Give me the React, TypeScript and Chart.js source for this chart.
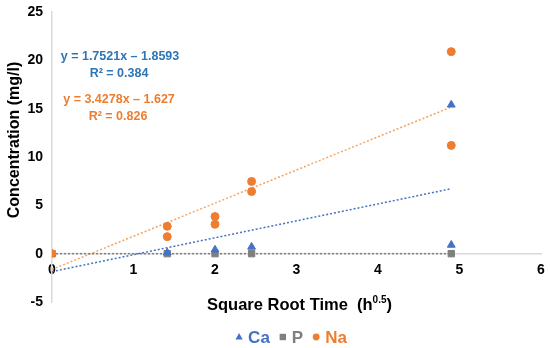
import React, { useEffect, useRef } from "react";
import { Chart, registerables } from "chart.js";

Chart.register(...registerables);

const caX = [0, 1.414, 2, 2.449, 4.899, 4.899];
const caY = [0, 0.1, 0.4, 0.7, 15.4, 0.9];
const pX = [0, 1.414, 2, 2.449, 4.899];
const pY = [0, 0, 0, 0, 0];
const naX = [0, 1.414, 1.414, 2, 2, 2.449, 2.449, 4.899, 4.899];
const naY = [0, 2.83, 1.76, 3.84, 3.04, 7.47, 6.43, 20.9, 11.2];
const trendX = [0, 4.899];
const caTrendY = [-1.86, 6.72];
const pTrendY = [0, 0];
const naTrendY = [-1.63, 15.17];

const seriesNames = ["Ca", "P", "Na"];
const caEq = ["y = 1.7521x \u2013 1.8593", "R\u00b2 = 0.384"];
const naEq = ["y = 3.4278x \u2013 1.627", "R\u00b2 = 0.826"];
const yTitle = "Concentration (mg/l)";
const xTitle = "Square Root Time  (h";
const xTitleSup = "0.5";
const xTitleEnd = ")";

const BLUE = "#4472C4";
const BLUE_TXT = "#2E75B6";
const GRAY = "#7F7F7F";
const ORANGE = "#ED7D31";
const FONT = "'Liberation Sans', Arial, sans-serif";

const pts = (xs: number[], ys: number[]) => xs.map((x, i) => ({ x, y: ys[i] }));

function drawMarker(ctx: CanvasRenderingContext2D, style: string, x: number, y: number, r: number, color: string) {
  ctx.fillStyle = color;
  ctx.beginPath();
  if (style === "triangle") {
    ctx.moveTo(x, y - r);
    ctx.lineTo(x + r * 0.9, y + r * 0.6);
    ctx.lineTo(x - r * 0.9, y + r * 0.6);
    ctx.closePath();
  } else if (style === "rect") {
    ctx.rect(x - r * 0.8, y - r * 0.8, r * 1.6, r * 1.6);
  } else {
    ctx.arc(x, y, r * 0.85, 0, Math.PI * 2);
  }
  ctx.fill();
}

const legendStyles: Record<string, string> = { Ca: "triangle", P: "rect", Na: "circle" };

const textPlugin = {
  id: "texts",
  afterDraw(chart: any) {
    const ctx = chart.ctx;
    const ca = chart.chartArea;
    ctx.save();
    // equations
    ctx.textAlign = "center";
    ctx.textBaseline = "middle";
    ctx.font = `bold 12.5px ${FONT}`;
    ctx.fillStyle = BLUE_TXT;
    ctx.fillText(caEq[0], 120, 57);
    ctx.fillText(caEq[1], 119, 74);
    ctx.fillStyle = ORANGE;
    ctx.fillText(naEq[0], 119, 100);
    ctx.fillText(naEq[1], 118, 117);
    // y title
    ctx.save();
    ctx.translate(15, 140);
    ctx.rotate(-Math.PI / 2);
    ctx.font = `bold 16px ${FONT}`;
    ctx.fillStyle = "#000";
    ctx.fillText(yTitle, 0, 0);
    ctx.restore();
    // x title with superscript
    ctx.fillStyle = "#000";
    ctx.textAlign = "left";
    ctx.textBaseline = "alphabetic";
    const big = `bold 16.5px ${FONT}`;
    const small = `bold 10px ${FONT}`;
    ctx.font = big;
    const w1 = ctx.measureText(xTitle).width;
    const w3 = ctx.measureText(xTitleEnd).width;
    ctx.font = small;
    const w2 = ctx.measureText(xTitleSup).width;
    const total = w1 + w2 + w3;
    const cx = (ca.left + ca.right) / 2 + 3;
    const x0 = cx - total / 2;
    const base = 310;
    ctx.font = big;
    ctx.fillText(xTitle, x0, base);
    ctx.font = small;
    ctx.fillText(xTitleSup, x0 + w1, base - 7);
    ctx.font = big;
    ctx.fillText(xTitleEnd, x0 + w1 + w2, base);
    // legend
    const ds = chart.data.datasets.filter((d: any) => seriesNames.includes(d.label));
    ctx.font = `bold 17px ${FONT}`;
    ctx.textBaseline = "middle";
    const markerW = 8;
    const gapMT = 5;
    const gapItem = 9;
    const widths = ds.map((d: any) => markerW + gapMT + ctx.measureText(d.label).width);
    const totalW = widths.reduce((a: number, b: number) => a + b, 0) + gapItem * (ds.length - 1);
    let lx = 291 - totalW / 2;
    const ly = 337;
    ds.forEach((d: any, i: number) => {
      drawMarker(ctx, legendStyles[d.label], lx + markerW / 2, ly, 4, d.backgroundColor);
      ctx.fillStyle = d.backgroundColor;
      ctx.fillText(d.label, lx + markerW + gapMT, ly + 1);
      lx += widths[i] + gapItem;
    });
    ctx.restore();
  },
};

export default function App() {
  const ref = useRef<HTMLCanvasElement>(null);
  useEffect(() => {
    if (!ref.current) return;
    const chart = new Chart(ref.current, {
      type: "scatter",
      data: {
        datasets: [
          {
            label: seriesNames[0],
            data: pts(caX, caY),
            backgroundColor: BLUE,
            borderColor: BLUE,
            pointStyle: "triangle",
            pointRadius: 4.5,
            order: 1,
          },
          {
            label: seriesNames[1],
            data: pts(pX, pY),
            backgroundColor: GRAY,
            borderColor: GRAY,
            pointStyle: "rect",
            pointRadius: 4.5,
            order: 2,
          },
          {
            label: seriesNames[2],
            data: pts(naX, naY),
            backgroundColor: ORANGE,
            borderColor: ORANGE,
            pointStyle: naX.map((_, i) => (i === 0 ? "rect" : "circle")),
            pointRadius: naX.map((_, i) => (i === 0 ? 4.5 : 4)),
            order: 0,
          },
          {
            label: "caTrend",
            type: "line",
            data: pts(trendX, caTrendY),
            borderColor: BLUE,
            borderWidth: 1.5,
            borderDash: [2, 2],
            pointRadius: 0,
            showLine: true,
            order: 5,
          },
          {
            label: "pTrend",
            type: "line",
            data: pts(trendX, pTrendY),
            borderColor: GRAY,
            borderWidth: 1.5,
            borderDash: [2, 2],
            pointRadius: 0,
            showLine: true,
            order: 5,
          },
          {
            label: "naTrend",
            type: "line",
            data: pts(trendX, naTrendY),
            borderColor: "#F4A460",
            borderWidth: 1.5,
            borderDash: [2, 2],
            pointRadius: 0,
            showLine: true,
            order: 5,
          },
        ],
      } as any,
      options: {
        animation: false,
        responsive: false,
        maintainAspectRatio: false,
        layout: { padding: { left: 0, right: 9, top: 12, bottom: 46 } },
        plugins: {
          tooltip: { enabled: false },
          legend: { display: false },
        },
        scales: {
          x: {
            type: "linear",
            position: { y: 0 } as any,
            min: 0,
            max: 6,
            grid: { display: false },
            border: { display: true, color: "#D9D9D9", width: 1.5 },
            ticks: {
              stepSize: 1,
              color: "#000",
              padding: 0,
              font: { family: FONT, size: 14, weight: "bold" },
            },
          },
          y: {
            type: "linear",
            min: -5,
            max: 25,
            grid: { display: false },
            border: { display: true, color: "#D9D9D9", width: 1.5 },
            afterFit: (s: any) => {
              s.width = 52;
            },
            ticks: {
              stepSize: 5,
              color: "#000",
              padding: 1,
              font: { family: FONT, size: 14, weight: "bold" },
            },
          },
        },
      } as any,
      plugins: [textPlugin],
    });
    return () => chart.destroy();
  }, []);
  return (
    <div style={{ position: "fixed", left: 0, top: 0, width: 550, height: 348, background: "#fff" }}>
      <canvas ref={ref} width={550} height={348} style={{ width: 550, height: 348 }} />
    </div>
  );
}
